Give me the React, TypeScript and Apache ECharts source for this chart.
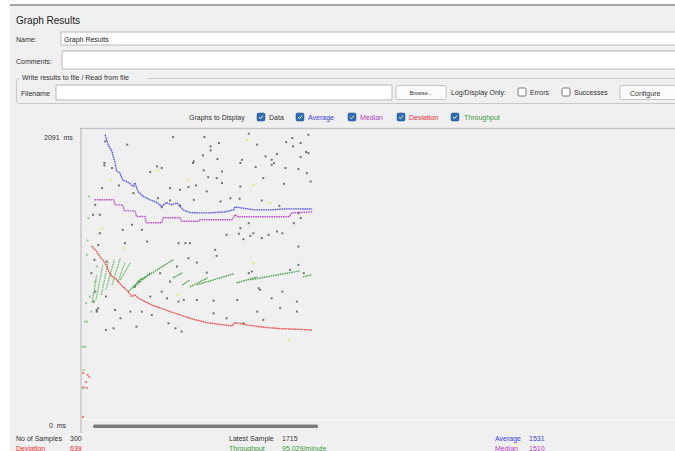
import React, { useEffect, useRef } from "react";
import * as echarts from "echarts";

// ---- Data ----
const averageSamples = [29, 33, 38, 42, 44, 48, 52, 57, 62, 66, 68, 72, 79, 88, 97, 103, 109, 116, 123, 131, 140, 151, 166, 186, 197, 199, 206, 225, 245, 265, 284, 300];
const averageMs = [2078, 2004, 1955, 1872, 1808, 1800, 1746, 1734, 1717, 1697, 1724, 1660, 1623, 1599, 1579, 1550, 1579, 1562, 1577, 1525, 1505, 1503, 1503, 1510, 1525, 1547, 1540, 1525, 1525, 1532, 1532, 1531];

const medianSamples = [15, 40, 42, 52, 54, 68, 70, 81, 83, 103, 105, 127, 129, 151, 153, 195, 199, 203, 270, 273, 300];
const medianMs = [1599, 1599, 1562, 1562, 1518, 1518, 1476, 1476, 1430, 1430, 1467, 1467, 1441, 1441, 1452, 1452, 1489, 1474, 1474, 1503, 1510];

const deviationSamples = [11, 18, 22, 29, 33, 38, 42, 46, 52, 57, 64, 68, 72, 81, 90, 101, 114, 127, 144, 162, 184, 195, 199, 215, 236, 258, 280, 298, 300];
const deviationMs = [1260, 1218, 1181, 1135, 1083, 1034, 1024, 997, 960, 936, 887, 899, 877, 850, 825, 803, 776, 752, 720, 695, 678, 671, 695, 678, 661, 651, 646, 641, 639];
const deviationEarly: [number, number][] = [[0, 0], [0, 324], [1, 221], [4, 258], [5, 214], [6, 310], [8, 295]];

const throughputSegments: [number, number][][] = [
  [[12, 840], [18, 1046]],
  [[17, 862], [26, 1120]],
  [[24, 899], [33, 1142]],
  [[30, 936], [41, 1157]],
  [[38, 973], [49, 1172]],
  [[46, 995], [55, 1142]],
  [[49, 1010], [62, 1135]],
  [[59, 921], [77, 1024]],
  [[66, 951], [88, 1061]],
  [[76, 1010], [118, 1157]],
  [[118, 1024], [130, 1061]],
  [[130, 973], [140, 1010]],
  [[140, 958], [163, 1024]],
  [[149, 973], [197, 1054]],
  [[201, 987], [228, 1032]],
  [[219, 1010], [284, 1076]],
  [[288, 1032], [299, 1046]],
];
const throughputEarly: [number, number][] = [[8, 1624], [7, 1464], [6, 1300], [5, 1194], [18, 1108], [16, 998], [14, 912], [9, 887], [4, 838], [11, 776], [3, 702], [0, 518], [0, 211], [1, 346], [5, 702], [3, 518]];

const sampleDots: [number, number][] = [
  [118, 2061], [159, 2061], [178, 2017], [167, 1992], [167, 1963], [157, 1926], [176, 1899], [164, 1766], [148, 1705], [127, 1673],
  [138, 1693], [114, 1685], [97, 1845], [103, 1833], [88, 1803], [58, 2005], [28, 1852], [38, 1833], [25, 1685], [47, 1705],
  [66, 1648], [98, 1611], [114, 1594], [127, 1557], [103, 1545], [77, 1378], [52, 1378], [64, 1415], [84, 1292], [125, 1280],
  [134, 1280], [140, 1280], [188, 1341], [206, 1390], [217, 1427], [223, 1353], [234, 1317], [243, 1341], [254, 1366], [261, 1353],
  [276, 1427], [285, 1464], [282, 1501], [298, 1734], [293, 1796], [295, 1943], [285, 1914], [275, 1992], [274, 2054], [285, 2017],
  [295, 2078], [265, 1833], [250, 1869], [239, 1919], [226, 1840], [236, 1759], [208, 1894], [206, 1697], [217, 2086], [193, 1611],
  [180, 1587], [162, 1661], [22, 1489], [16, 1562], [22, 1353], [55, 1280], [204, 1349], [219, 1334], [210, 1309], [173, 1231],
  [175, 1186], [162, 1063], [149, 1137], [138, 1169], [123, 1108], [114, 997], [101, 1059], [103, 923], [73, 997], [68, 960],
  [62, 776], [49, 727], [40, 653], [30, 641], [42, 788], [77, 776], [90, 751], [110, 874], [121, 653], [129, 629],
  [125, 850], [132, 862], [149, 862], [171, 857], [171, 764], [188, 727], [202, 862], [210, 690], [217, 1059], [221, 1071],
  [230, 948], [232, 936], [228, 776], [236, 715], [247, 874], [258, 801], [261, 923], [271, 1083], [280, 850], [280, 776],
  [282, 1120], [282, 1255], [289, 1059], [20, 1267], [31, 1145], [30, 887], [18, 788], [70, 665], [88, 887], [112, 690],
  [145, 1882], [144, 1870], [158, 1816], [182, 1808], [175, 1759], [182, 1722], [145, 1599], [228, 2005], [206, 1870], [254, 1936],
  [247, 1894], [247, 1857], [205, 1607], [234, 1594], [266, 2024], [292, 1951], [282, 1825], [263, 1717], [257, 1555], [29, 2029],
  [28, 1870], [13, 1489], [15, 1157], [11, 1059], [16, 924], [14, 850], [18, 776], [20, 801],
];
const yellowDots: [number, number][] = [[36, 1747], [215, 2041], [223, 1710], [245, 1575], [137, 1742], [98, 1815], [54, 1243], [124, 899], [223, 1132], [269, 567], [25, 1386]];

const yMaxLabel = "2091  ms";
const yMinLabel = "0  ms";
const statsLeft = [["No of Samples", "300"], ["Deviation", "639"]];
const statsMid = [["Latest Sample", "1715"], ["Throughput", "95,029/minute"]];
const statsRight = [["Average", "1531"], ["Median", "1510"]];

const BLUE = "#3a3aff";
const PURPLE = "#b43cc4";
const RED = "#ff2a2a";
const GREEN = "#3c9a3c";
const FONT = '"Liberation Sans", Arial, sans-serif';

function txt(x: number, y: number, text: string, fill = "#333", size = 7.5, extra: any = {}) {
  return { type: "text", x, y, z: 20, style: { text, fill, font: `${size}px ${FONT}`, verticalAlign: "middle", ...extra } };
}
function box(x: number, y: number, w: number, h: number, fill: string, stroke: string, r = 0, z = 5) {
  return { type: "rect", z, shape: { x, y, width: w, height: h, r }, style: { fill, stroke, lineWidth: 1 } };
}
function checked(x: number, y: number) {
  return [
    { type: "rect", z: 20, shape: { x, y, width: 8, height: 8, r: 1.5 }, style: { fill: "#2c6cb8", stroke: "#1d4f8c", lineWidth: 0.5 } },
    { type: "polyline", z: 21, shape: { points: [[x + 2, y + 4.2], [x + 3.5, y + 5.6], [x + 6, y + 2.6]] }, style: { stroke: "#fff", lineWidth: 1, fill: "none" } },
  ];
}
function unchecked(x: number, y: number) {
  return { type: "rect", z: 20, shape: { x, y, width: 8, height: 8, r: 1.5 }, style: { fill: "#fff", stroke: "#555", lineWidth: 0.8 } };
}

export default function App() {
  const ref = useRef<HTMLDivElement>(null);
  useEffect(() => {
    if (!ref.current) return;
    const chart = echarts.init(ref.current, undefined, { renderer: "svg" });

    const graphic: any[] = [
      { type: "rect", z: 1, shape: { x: 0, y: 0, width: 10, height: 451 }, style: { fill: "#ffffff" } },
      { type: "rect", z: 1, shape: { x: 0, y: 0, width: 675, height: 5 }, style: { fill: "#ffffff" } },
      { type: "line", z: 2, shape: { x1: 10, y1: 5, x2: 675, y2: 5 }, style: { stroke: "#555", lineWidth: 1.2 } },
      txt(16, 20, "Graph Results", "#222", 10),
      txt(16, 39, "Name:", "#333", 7),
      box(61, 32, 620, 13, "#fff", "#b8b8b8"),
      txt(64, 39, "Graph Results", "#222", 7),
      txt(16, 61, "Comments:", "#333", 7),
      box(62, 51, 620, 18, "#fff", "#b8b8b8"),
      box(16.5, 78.5, 680, 25, "none", "#c8c8c8", 3, 4),
      { type: "rect", z: 6, shape: { x: 20, y: 73, width: 128, height: 9 }, style: { fill: "#f0f0f0" } },
      txt(22, 77.5, "Write results to file / Read from file", "#333", 7),
      txt(21, 93, "Filename", "#333", 7),
      box(56, 85, 336, 15, "#fff", "#b8b8b8"),
      box(396, 85.5, 50, 14, "#fbfbfb", "#c4c4c4", 1.5),
      txt(421, 93, "Browse...", "#333", 5.5, { align: "center" }),
      txt(451, 92.5, "Log/Display Only:", "#333", 7),
      unchecked(518, 88),
      txt(530, 92.5, "Errors", "#333", 7),
      unchecked(562, 88),
      txt(574, 92.5, "Successes", "#333", 7),
      box(620, 85.5, 70, 14, "#fbfbfb", "#c4c4c4", 1.5),
      txt(630, 93, "Configure", "#333", 7),
      txt(189, 117, "Graphs to Display", "#333", 7),
      ...checked(257, 113),
      txt(269, 117, "Data", "#333", 7),
      ...checked(296, 113),
      txt(308, 117, "Average", BLUE, 7),
      ...checked(348, 113),
      txt(360, 117, "Median", PURPLE, 7),
      ...checked(397, 113),
      txt(409, 117, "Deviation", RED, 7),
      ...checked(451, 113),
      txt(464, 117, "Throughput", GREEN, 7),
      { type: "line", z: 3, shape: { x1: 80, y1: 128.5, x2: 675, y2: 128.5 }, style: { stroke: "#c6c6cc", lineWidth: 1.5 } },
      { type: "line", z: 3, shape: { x1: 81, y1: 128, x2: 81, y2: 433 }, style: { stroke: "#b4b4b8", lineWidth: 1 } },
      { type: "line", z: 3, shape: { x1: 82, y1: 419.5, x2: 675, y2: 419.5 }, style: { stroke: "#fafafa", lineWidth: 1 } },
      txt(44, 137, yMaxLabel, "#333", 7),
      txt(49, 425, yMinLabel, "#333", 7),
      { type: "rect", z: 5, shape: { x: 93, y: 424.5, width: 225, height: 3.5, r: 1.5 }, style: { fill: "#7c7c7c" } },
      txt(16, 438, statsLeft[0][0], "#333", 7), txt(70, 438, statsLeft[0][1], "#333", 7),
      txt(16, 448, statsLeft[1][0], RED, 7), txt(70, 448, statsLeft[1][1], RED, 7),
      txt(229, 438, statsMid[0][0], "#333", 7), txt(282, 438, statsMid[0][1], "#333", 7),
      txt(229, 448, statsMid[1][0], GREEN, 7), txt(282, 448, statsMid[1][1], GREEN, 7),
      txt(495, 438, statsRight[0][0], BLUE, 7), txt(529, 438, statsRight[0][1], BLUE, 7),
      txt(495, 448, statsRight[1][0], PURPLE, 7), txt(529, 448, statsRight[1][1], PURPLE, 7),
    ];

    const lineStyle = (color: string, w = 1.4, opacity = 0.85) => ({ color, width: w, type: [1.6, 0.7], opacity });
    const series: any[] = [
      { type: "scatter", name: "Data", data: sampleDots, symbol: "rect", symbolSize: 2, itemStyle: { color: "#555" }, z: 2 },
      { type: "scatter", name: "DataY", data: yellowDots, symbol: "rect", symbolSize: 2, itemStyle: { color: "#e6e050" }, z: 2 },
      { type: "scatter", name: "ThroughputEarly", data: throughputEarly, symbol: "rect", symbolSize: 2, itemStyle: { color: "#7cc47c" }, z: 2 },
      { type: "scatter", name: "DeviationEarly", data: deviationEarly, symbol: "rect", symbolSize: 2, itemStyle: { color: "#ff6060" }, z: 2 },
      { type: "line", name: "Average", data: averageSamples.map((s, i) => [s, averageMs[i]]), showSymbol: false, lineStyle: lineStyle(BLUE), z: 4 },
      { type: "line", name: "Median", data: medianSamples.map((s, i) => [s, medianMs[i]]), showSymbol: false, lineStyle: lineStyle(PURPLE), z: 3 },
      { type: "line", name: "Deviation", data: deviationSamples.map((s, i) => [s, deviationMs[i]]), showSymbol: false, lineStyle: lineStyle(RED), z: 4 },
      ...throughputSegments.map((seg, i) => ({
        type: "line", name: "Throughput", data: seg, showSymbol: false,
        lineStyle: lineStyle(i < 7 ? "#6cbb6c" : GREEN, 1.3, 0.9), z: 3,
      })),
    ];

    chart.setOption({
      animation: false,
      backgroundColor: "#f0f0f0",
      grid: { left: 83, right: 0, top: 133, bottom: 34, containLabel: false },
      xAxis: { type: "value", min: 0, max: 775, show: false },
      yAxis: { type: "value", min: 0, max: 2091, show: false },
      graphic,
      series,
    });
    return () => chart.dispose();
  }, []);
  return <div ref={ref} style={{ position: "absolute", left: 0, top: 0, width: 675, height: 451 }} />;
}
